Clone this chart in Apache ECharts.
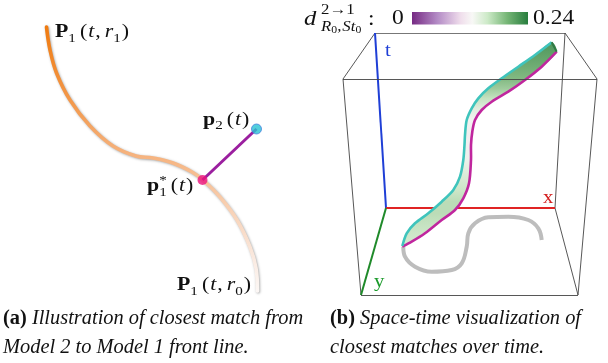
<!DOCTYPE html>
<html><head><meta charset="utf-8">
<script src="https://cdn.jsdelivr.net/npm/echarts@6/dist/echarts.min.js"></script>
<style>html,body{margin:0;padding:0;background:#fff}#c{width:608px;height:363px}</style>
</head><body><div id="c"></div>
<script>
// ---------------- data (panel pixel space) ----------------
const orangeCurve = [[46.5,27],[50,50],[56.5,73],[70,100],[90,126],[113,146],[136,156],[153,158],[173,163],[192,172],[203,180],[220,197],[237,220],[250,247],[256,268],[257.5,291]];
const closestPoint = [202.5,180];
const matchPoint = [256.5,129];

const ribbonTop = [[402.3,246],[406.7,233.3],[415,223.3],[428.3,213.3],[441.7,201.7],[453.3,190],[460,176.7],[463.3,160],[464.5,145],[465,135],[466.7,120],[471.7,108.3],[478.3,98.3],[488.3,88.3],[501.7,78.3],[518.3,66.7],[535,55],[551.7,42.3]];
const ribbonBottom = [[402.3,246.7],[411.7,241.7],[425,233.3],[441.7,220],[455,210],[463.3,198.3],[469,183.3],[471,160],[471,145],[472.3,131.7],[475,120],[481.7,110],[491.7,101.7],[508.3,91.7],[525,80],[541.7,66.7],[556.7,51.7]];
const ribbonDist = [0.15,0.155,0.16,0.165,0.165,0.155,0.145,0.13,0.122,0.12,0.125,0.14,0.16,0.18,0.195,0.205,0.215,0.225];
const floorShadow = [[403.3,246.7],[405,256.7],[415,266.7],[431.7,271.7],[451.7,270],[461.7,263.3],[466.7,246.7],[468.3,233.3],[475,223.3],[488.3,217.3],[508.3,216.7],[528.3,220],[538.3,228.3],[541.7,240]];

const boxBackTop = [[375,33],[565,33]];
const boxFrontTop = [[343,79],[597,79]];
const boxBottomBack = [[386,208],[555,208]];
const boxFrontBottom = [[361,295],[578,295]];
const axisT = [[386,208],[375,33]];
const axisX = [[386,208],[555,208]];
const axisY = [[386,208],[361,295]];

const colorbarRange = [0, 0.24];
const colorbarTicks = ['0', '0.24'];
const prgnStops = [[0,[118,42,131]],[0.22,[180,140,198]],[0.42,[240,222,236]],[0.52,[248,248,246]],[0.65,[205,234,200]],[0.82,[118,182,118]],[1,[40,125,62]]];

// ---------------- helpers ----------------
function cmap(v){
  v=Math.max(0,Math.min(1,v));
  for(let i=1;i<prgnStops.length;i++){
    const [o1,c1]=prgnStops[i-1],[o2,c2]=prgnStops[i];
    if(v<=o2){const t=(v-o1)/(o2-o1);return c1.map((c,k)=>Math.round(c+(c2[k]-c)*t));}
  }
  return prgnStops[prgnStops.length-1][1];
}
const rgb=(c)=>`rgb(${c[0]},${c[1]},${c[2]})`;
const shade=(c,f,g)=>c.map(x=>Math.round(x*f+g*(1-f)));

const mctx=document.createElement('canvas').getContext('2d');
const FAM='"Liberation Serif","Times New Roman",serif';
const graphics=[];
function mathText(x,base,parts,opts){
  opts=opts||{};
  const sx=opts.sx||1, color=opts.color||'#111', def=opts.size||19;
  let cx=x;
  for(const p of parts){
    const size=p.size||def;
    const font=`${p.it?'italic':'normal'} ${p.bold?'bold':'normal'} ${size}px ${FAM}`;
    cx+=(p.gap||0);
    mctx.font=font;
    const w=mctx.measureText(p.t).width*sx;
    graphics.push({type:'text',x:cx,y:base+(p.dy||0)-0.34*size,scaleX:sx,z:100,
      style:{text:p.t,font:font,fill:p.color||color,align:'left',verticalAlign:'middle',textAlign:'left',textVerticalAlign:'middle'}});
    cx+=w;
  }
  return cx;
}
function textWidth(t,font,sx){mctx.font=font;return mctx.measureText(t).width*(sx||1);}

// ---------------- texts ----------------
const LS={size:19.5,sx:1.12};
const SUB=13.5;
mathText(55,39,[{t:'P',bold:1},{t:'1',size:SUB,dy:4},{t:'(',gap:4},{t:'t',it:1,gap:1},{t:',',gap:1},{t:'r',it:1,gap:4},{t:'1',size:SUB,dy:4},{t:')',gap:1}],LS);
mathText(203,127,[{t:'p',bold:1},{t:'2',size:SUB,dy:3},{t:'(',gap:4},{t:'t',it:1,gap:1},{t:')',gap:1}],LS);
(function(){
  const x=147,b=193;
  const wp=textWidth('p',`normal bold ${LS.size}px ${FAM}`,LS.sx);
  mathText(x,b,[{t:'p',bold:1}],LS);
  mathText(x+wp,b,[{t:'*',size:SUB,dy:-8}],LS);
  mathText(x+wp,b,[{t:'1',size:SUB,dy:4},{t:'(',gap:4},{t:'t',it:1,gap:1},{t:')',gap:1}],LS);
})();
mathText(177,292,[{t:'P',bold:1},{t:'1',size:SUB,dy:4},{t:'(',gap:4},{t:'t',it:1,gap:1},{t:',',gap:1},{t:'r',it:1,gap:4},{t:'0',size:SUB,dy:4},{t:')',gap:1}],LS);

// colorbar label
const CB={sx:1.12,size:21};
mathText(304,27,[{t:'d',it:1,size:22}],CB);
mathText(321,15,[{t:'2',size:15},{t:'\u2192',size:15},{t:'1',size:15}],CB);
mathText(321,32,[{t:'R',it:1,size:15},{t:'0',size:10.5,dy:2},{t:',',size:15},{t:'S',it:1,size:15,gap:1},{t:'t',it:1,size:15},{t:'0',size:10.5,dy:2}],CB);
mathText(368,27,[{t:':',size:21}],CB);
mathText(392,26,[{t:colorbarTicks[0]}],CB);
mathText(533,26,[{t:colorbarTicks[1]}],CB);
graphics.push({type:'rect',shape:{x:412,y:12,width:116,height:12.5},z:50,
  style:{fill:{type:'linear',x:0,y:0,x2:1,y2:0,colorStops:prgnStops.map(([o,c])=>({offset:o,color:rgb(c)}))}}});

// axis letters
mathText(385,57,[{t:'t'}],{size:19,sx:1.1,color:'#1f3fd6'});
mathText(543,204,[{t:'x'}],{size:19,sx:1.1,color:'#d42020'});
mathText(374,288,[{t:'y'}],{size:19,sx:1.1,color:'#1a9a2a'});

// captions
const CAP={size:20,sx:1.02};
mathText(3,326,[{t:'(a)',bold:1},{t:' Illustration of closest match from',it:1}],CAP);
mathText(3,355,[{t:'Model 2 to Model 1 front line.',it:1}],CAP);
mathText(330,326,[{t:'(b)',bold:1},{t:' Space-time visualization of',it:1}],CAP);
mathText(330,355,[{t:'closest matches over time.',it:1}],CAP);

// ---------------- chart ----------------
const seg=(pts,color,w,z)=>({type:'lines',coordinateSystem:'cartesian2d',z:z||1,silent:true,
  data:[{coords:pts}],lineStyle:{color:color,width:w,opacity:1}});

const yTop=Math.min(...ribbonTop.map(p=>p[1])), yBot=Math.max(...ribbonTop.map(p=>p[1]));
const ribbonStops=ribbonTop.map((p,i)=>({offset:(p[1]-yTop)/(yBot-yTop),color:rgb(shade(cmap(ribbonDist[i]/colorbarRange[1]),0.9,195))})).sort((a,b)=>a.offset-b.offset);

const EDGE='#444';
const option={
  animation:false,
  grid:{left:0,right:0,top:0,bottom:0},
  xAxis:{type:'value',min:0,max:608,show:false},
  yAxis:{type:'value',min:0,max:363,inverse:true,show:false},
  graphic:{elements:graphics},
  series:[
    {type:'line',data:orangeCurve,smooth:0.4,symbol:'none',z:2,
      lineStyle:{width:3.6,cap:'round',shadowColor:'rgba(0,0,0,0.35)',shadowBlur:2.5,shadowOffsetX:0.8,shadowOffsetY:0.8,
        color:{type:'linear',x:0,y:0,x2:0,y2:1,colorStops:[{offset:0,color:'#f07a0e'},{offset:0.3,color:'#f39a4e'},{offset:0.5,color:'#f6b582'},{offset:0.7,color:'#f8d3b8'},{offset:0.88,color:'#faebe2'},{offset:1,color:'#fcf8f6'}]}}},
    {type:'line',data:[closestPoint,matchPoint],symbol:'none',z:3,lineStyle:{width:3,color:'#9b1f9f'}},
    {type:'scatter',data:[closestPoint],symbolSize:10,z:4,itemStyle:{color:'#ec137d'}},
    {type:'scatter',data:[matchPoint],symbolSize:10,z:4,itemStyle:{color:'#27c3d3',borderColor:'#4a7fe0',borderWidth:1}},
    // box
    seg(boxBackTop,'#777',1),
    seg([boxBackTop[0],boxFrontTop[0]],EDGE,0.9),
    seg([boxBackTop[1],boxFrontTop[1]],EDGE,0.9),
    seg([boxBackTop[1],boxBottomBack[1]],EDGE,0.9),
    seg([boxFrontTop[0],boxFrontBottom[0]],EDGE,0.9),
    seg([boxFrontTop[1],boxFrontBottom[1]],EDGE,0.9),
    seg(boxFrontBottom,EDGE,0.9),
    seg([boxBottomBack[1],boxFrontBottom[1]],EDGE,0.9),
    seg(axisT,'#1f3fd6',2),
    seg(axisX,'#e02424',2),
    seg(axisY,'#1f8a2a',2),
    {type:'line',data:floorShadow,smooth:0.4,symbol:'none',z:5,lineStyle:{width:4,color:'#bdbdbd',cap:'butt'}},
    {type:'custom',z:10,data:[0],renderItem:function(params,api){
      const top=ribbonTop.map(p=>api.coord(p)), bot=ribbonBottom.map(p=>api.coord(p));
      const poly=top.concat(bot.slice().reverse());
      return {type:'group',children:[
        {type:'polygon',shape:{points:poly,smooth:0.3},style:{fill:{type:'linear',global:true,x:0,y:yTop,x2:0,y2:yBot,colorStops:ribbonStops},stroke:null}},
        {type:'polyline',shape:{points:bot,smooth:0.3},style:{stroke:'#c0269e',lineWidth:2.6,fill:null,lineJoin:'round'}},
        {type:'polyline',shape:{points:top,smooth:0.3},style:{stroke:'#3fc4bc',lineWidth:2.6,fill:null,lineJoin:'round'}},
        {type:'polyline',shape:{points:[top[top.length-1],bot[bot.length-1]]},style:{stroke:'#2f7a45',lineWidth:2,fill:null}}
      ]};
    }},
    seg(boxFrontTop,EDGE,0.9,20)
  ]
};
const chart=echarts.init(document.getElementById('c'));
chart.setOption(option);
</script></body></html>
